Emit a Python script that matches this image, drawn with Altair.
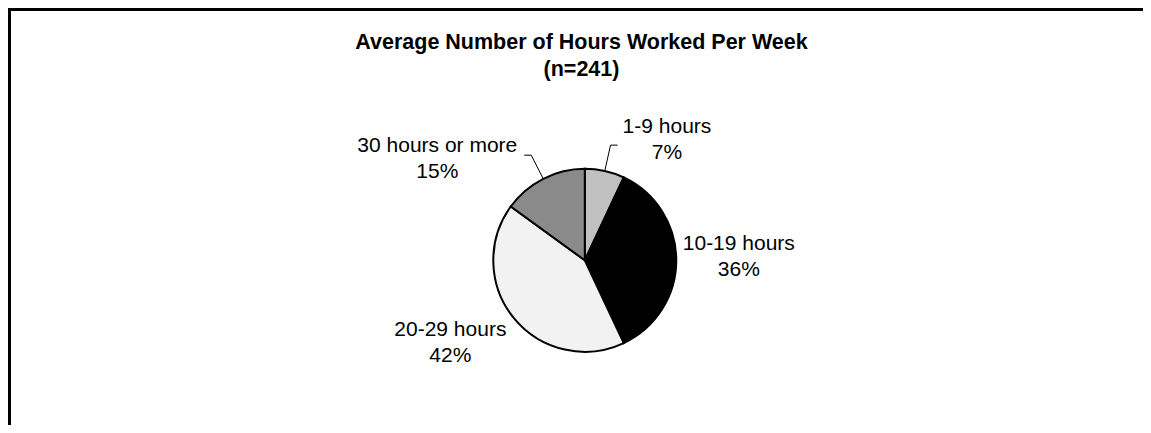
import altair as alt
import pandas as pd

# ---- data ----
categories = ["1-9 hours", "10-19 hours", "20-29 hours", "30 hours or more"]
percents = [7, 36, 42, 15]
slice_fills = ["#c0c0c0", "#000000", "#f2f2f2", "#8a8a8a"]
title_lines = ["Average Number of Hours Worked Per Week", "(n=241)"]

# ---- layout (not data): label-block nudges from their radial anchors ----
label_nudge_x = [56, 34, -42, -93]
label_nudge_y = [-16, -16, -7, -7]

W, H = 1135, 417
CX, CY = 576.8, 252.3
R = 91.5
R_LEAD0, R_LEAD1, R_LABEL = 92, 118, 120
TICK = 7
FONT = "Liberation Sans"

df = pd.DataFrame({
    "cat": categories,
    "pct": percents,
    "order": list(range(len(categories))),
    "nx": label_nudge_x,
    "ny": label_nudge_y,
})
frame_df = pd.DataFrame({"k": [0]})

xs = alt.Scale(domain=[0, W], range=[0, W], nice=False, zero=False)
ys = alt.Scale(domain=[0, H], range=[0, H], nice=False, zero=False)

base = (
    alt.Chart(df)
    .transform_joinaggregate(total="sum(pct)")
    .transform_window(cum="sum(pct)", sort=[alt.SortField("order")], frame=[None, 0])
    .transform_calculate(a="2*PI*(datum.cum - datum.pct/2)/datum.total")
)

frame_left = alt.Chart(frame_df).mark_rule(color="black", strokeWidth=3).encode(
    x=alt.value(1.5), y=alt.value(0), y2=alt.value(H)
)
frame_top = alt.Chart(frame_df).mark_rule(color="black", strokeWidth=3).encode(
    y=alt.value(1.5), x=alt.value(0), x2=alt.value(W)
)

pie = alt.Chart(df).mark_arc(outerRadius=R, stroke="black", strokeWidth=2).encode(
    theta=alt.Theta("pct:Q", stack=True),
    order=alt.Order("order:Q", sort="ascending"),
    color=alt.Color("cat:N", scale=alt.Scale(domain=categories, range=slice_fills), legend=None),
    x=alt.value(CX),
    y=alt.value(CY),
)

leaders = (
    base.transform_filter("datum.pct < 20")
    .transform_calculate(s="sin(datum.a)", c="cos(datum.a)")
    .transform_calculate(
        x0=f"{CX} + {R_LEAD0}*datum.s",
        y0=f"{CY} - {R_LEAD0}*datum.c",
        x1=f"{CX} + {R_LEAD1}*datum.s",
        y1=f"{CY} - {R_LEAD1}*datum.c",
    )
    .transform_calculate(x2=f"datum.x1 + (datum.s > 0 ? {TICK} : -{TICK})")
)
radial = leaders.mark_rule(color="black", strokeWidth=1).encode(
    x=alt.X("x0:Q", scale=xs, axis=None),
    y=alt.Y("y0:Q", scale=ys, axis=None),
    x2="x1:Q",
    y2="y1:Q",
)
tick = leaders.mark_rule(color="black", strokeWidth=1).encode(
    x=alt.X("x1:Q", scale=xs, axis=None),
    y=alt.Y("y1:Q", scale=ys, axis=None),
    x2="x2:Q",
)

labels = base.transform_calculate(
    lx=f"{CX} + {R_LABEL}*sin(datum.a) + datum.nx",
    ly=f"{CY} - {R_LABEL}*cos(datum.a) + datum.ny",
    txt="datum.cat + '\\n' + datum.pct + '%'",
).mark_text(
    font=FONT, fontSize=21, lineBreak="\n", lineHeight=26,
    align="center", baseline="middle", color="black",
).encode(
    x=alt.X("lx:Q", scale=xs, axis=None),
    y=alt.Y("ly:Q", scale=ys, axis=None),
    text="txt:N",
)

chart = alt.layer(frame_left, frame_top, pie, radial, tick, labels).properties(
    width=W,
    height=H,
    padding=0,
    autosize=alt.AutoSizeParams(type="none"),
    title=alt.TitleParams(
        text=title_lines,
        font=FONT,
        fontSize=21.5,
        fontWeight="bold",
        color="black",
        anchor="middle",
        baseline="alphabetic",
        lineHeight=27,
        offset=0,
        dx=6,
        dy=91,
    ),
).configure_view(stroke=None)

chart.save("out.html", embed_options={"renderer": "svg", "actions": False})
